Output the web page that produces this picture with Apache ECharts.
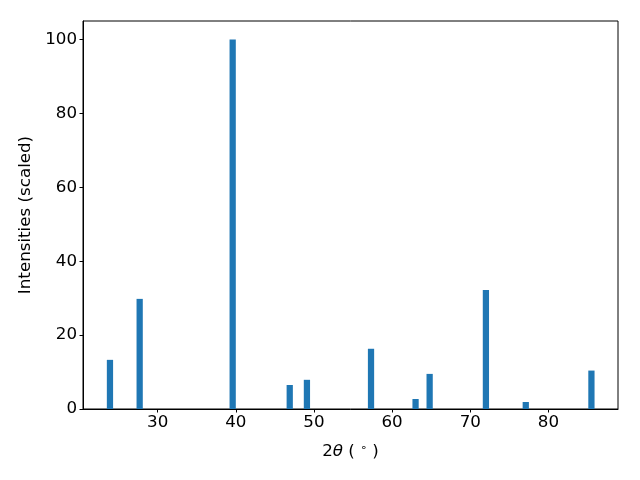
<!DOCTYPE html>
<html><head><meta charset="utf-8">
<script src="https://cdn.jsdelivr.net/npm/echarts@6/dist/echarts.min.js"></script>
<style>html,body{margin:0;padding:0;background:#fff}#c{width:640px;height:480px}</style>
</head><body><div id="c"></div>
<script>
const twoTheta = [23.9, 27.7, 39.6, 46.9, 49.1, 57.3, 63.0, 64.8, 72.0, 77.1, 85.5];
const intensities = [13.3, 29.8, 100, 6.5, 7.9, 16.3, 2.7, 9.5, 32.2, 1.9, 10.4];
const xTicks = [30, 40, 50, 60, 70, 80];
const yTicks = [0, 20, 40, 60, 80, 100];
const barWidthUnits = 0.8;

const data = twoTheta.map((x, i) => [x, intensities[i]]);
const font = 'DejaVu Sans';
const fs = 16.7;
const chart = echarts.init(document.getElementById('c'), null, {renderer: 'canvas'});
chart.setOption({
  animation: false,
  grid: {left: 83, right: 22, top: 21, bottom: 71, show: true, borderColor: '#000', borderWidth: 1, backgroundColor: 'transparent'},
  xAxis: {
    type: 'value', min: 20.45, max: 88.9,
    name: '2{i|θ} ( {s|∘} )', nameLocation: 'middle', nameGap: 34,
    nameTextStyle: {fontFamily: font, fontSize: fs, color: '#000',
      rich: {i: {fontFamily: font, fontStyle: 'italic', fontSize: fs, color: '#000'},
             s: {fontFamily: font, fontSize: 11, color: '#000', verticalAlign: 'top', padding: [0,0,7,0]}}},
    axisLine: {show: true, onZero: false, lineStyle: {color: '#000', width: 1}},
    axisTick: {show: true, length: 3.5, lineStyle: {color: '#000'}, customValues: xTicks},
    axisLabel: {fontFamily: font, fontSize: fs, color: '#000', margin: 5, customValues: xTicks},
    splitLine: {show: false}
  },
  yAxis: {
    type: 'value', min: 0, max: 105,
    name: 'Intensities (scaled)', nameLocation: 'middle', nameGap: 48,
    nameTextStyle: {fontFamily: font, fontSize: fs, color: '#000'},
    axisLine: {show: true, lineStyle: {color: '#000', width: 1}},
    axisTick: {show: true, length: 3.5, lineStyle: {color: '#000'}, customValues: yTicks},
    axisLabel: {fontFamily: font, fontSize: fs, color: '#000', margin: 6, customValues: yTicks},
    splitLine: {show: false}
  },
  series: [{
    type: 'custom',
    data: data,
    renderItem: function (params, api) {
      const x = api.value(0), y = api.value(1);
      const p1 = api.coord([x - barWidthUnits / 2, y]);
      const p2 = api.coord([x + barWidthUnits / 2, 0]);
      return {type: 'rect', shape: {x: p1[0], y: p1[1], width: p2[0] - p1[0], height: p2[1] - p1[1]},
        style: {fill: '#1f77b4'}};
    }
  }]
});
</script></body></html>
